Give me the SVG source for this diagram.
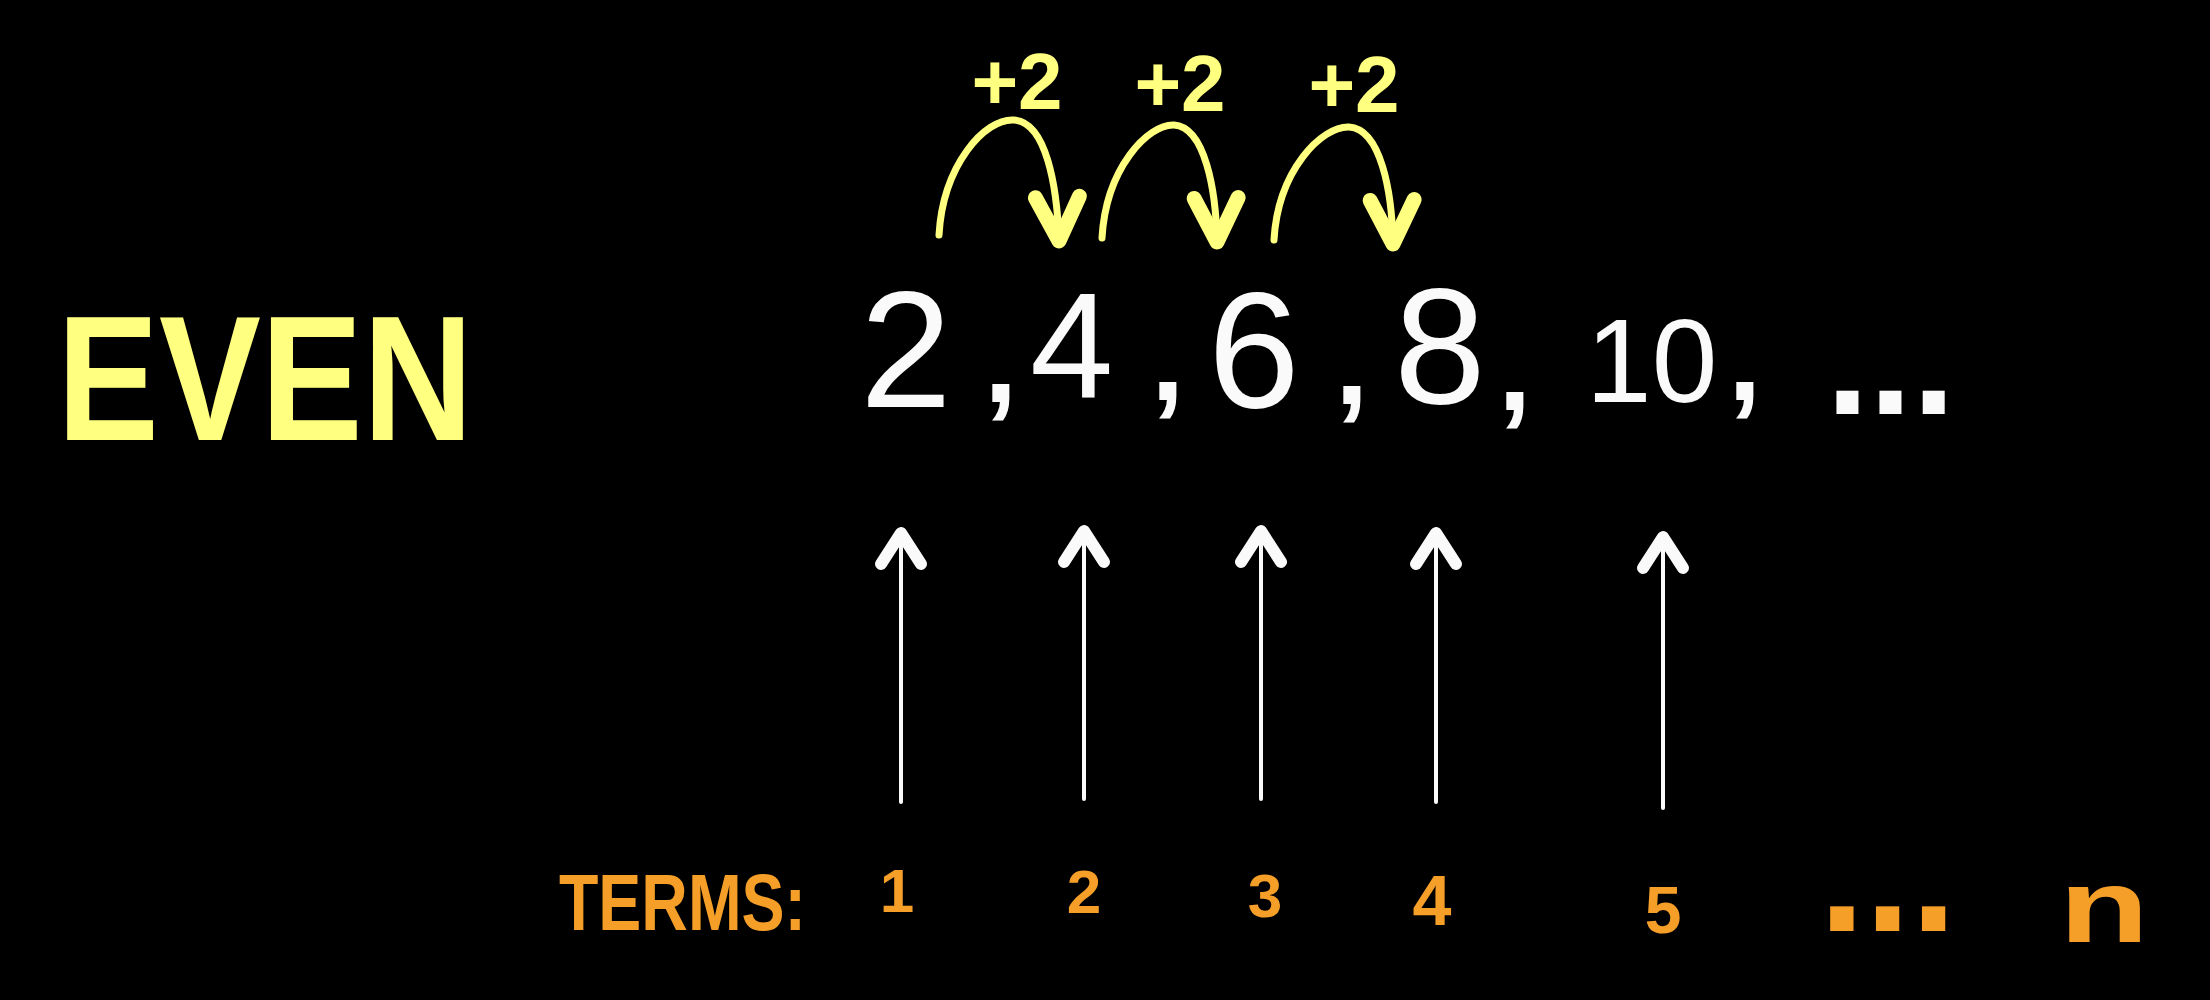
<svg xmlns="http://www.w3.org/2000/svg" width="2210" height="1000" viewBox="0 0 2210 1000">
<style>
.yl{fill:#FFFF80;font-family:"Liberation Sans",Arial,sans-serif;font-weight:bold}
.wh{fill:#FAFAFA;font-family:"Liberation Sans",Arial,sans-serif}
.cm{font-size:120px;font-weight:bold}
.or{fill:#F59E28;font-family:"Liberation Sans",Arial,sans-serif;font-weight:bold}
.hop{fill:none;stroke:#FFFF80;stroke-width:7;stroke-linecap:round;marker-end:url(#yhead)}
.up{fill:none;stroke:#FAFAFA;stroke-width:4;stroke-linecap:round;marker-end:url(#whead)}
</style>
<defs>
<marker id="yhead" markerUnits="userSpaceOnUse" orient="auto" refX="0" refY="0" markerWidth="80" markerHeight="80" viewBox="-60 -40 80 80" overflow="visible">
<path d="M-44,-22 L0,0 L-44,22" fill="none" stroke="#FFFF80" stroke-width="15" stroke-linecap="round" stroke-linejoin="round"/>
</marker>
<marker id="whead" markerUnits="userSpaceOnUse" orient="auto" refX="0" refY="0" markerWidth="80" markerHeight="80" viewBox="-60 -40 80 80" overflow="visible">
<path d="M-31,-20 L0,0 L-31,20" fill="none" stroke="#FAFAFA" stroke-width="12" stroke-linecap="round" stroke-linejoin="round"/>
</marker>
</defs>
<rect width="2210" height="1000" fill="#000"/>

<g id="title">
<text class="yl" x="57" y="440" font-size="178" textLength="416" lengthAdjust="spacingAndGlyphs">EVEN</text>
</g>

<g id="step-labels">
<text class="yl" x="1017" y="109" font-size="80" text-anchor="middle">+2</text>
<text class="yl" x="1180" y="111" font-size="80" text-anchor="middle">+2</text>
<text class="yl" x="1354" y="112" font-size="80" text-anchor="middle">+2</text>
</g>

<g id="sequence">
<text class="wh" y="407" font-size="165"><tspan x="860">2</tspan><tspan class="cm" x="984" y="402">,</tspan><tspan x="1030" y="397" font-size="150">4</tspan><tspan class="cm" x="1151" y="400">,</tspan><tspan x="1208" y="407">6</tspan><tspan class="cm" x="1335" y="404">,</tspan><tspan x="1394" y="403">8</tspan><tspan class="cm" x="1498" y="410">,</tspan><tspan x="1586" y="402" font-size="118">10</tspan><tspan class="cm" x="1728" y="400">,</tspan></text>
<text class="wh" x="1826" y="414" font-size="155" font-weight="bold">...</text>
</g>

<g id="terms-row">
<text class="or" x="559" y="930" font-size="80" textLength="247" lengthAdjust="spacingAndGlyphs">TERMS:</text>
<text class="or" x="897" y="912" font-size="62" text-anchor="middle">1</text>
<text class="or" x="1084" y="913" font-size="62" text-anchor="middle">2</text>
<text class="or" x="1265" y="917" font-size="62" text-anchor="middle">3</text>
<text class="or" x="1432" y="925" font-size="70" text-anchor="middle">4</text>
<text class="or" x="1663" y="933" font-size="66" text-anchor="middle">5</text>
<text class="or" x="1819" y="931" font-size="165">...</text>
<text class="or" x="2059" y="942" font-size="104" textLength="90" lengthAdjust="spacingAndGlyphs">n</text>
</g>

<g id="connectors">
<path class="hop" d="M939,235 C943,165 985,118 1014,120 C1046,122 1057,185 1059,241"/>
<path class="hop" d="M1102,238 C1106,168 1148,124 1174,125 C1205,127 1216,190 1217,242"/>
<path class="hop" d="M1274,240 C1278,170 1322,126 1349,127 C1381,129 1392,192 1393,244"/>
<path class="up" d="M901,802 L901,533"/>
<path class="up" d="M1084,799 L1084,531"/>
<path class="up" d="M1261,799 L1261,531"/>
<path class="up" d="M1436,802 L1436,533"/>
<path class="up" d="M1663,808 L1663,537"/>
</g>
</svg>
